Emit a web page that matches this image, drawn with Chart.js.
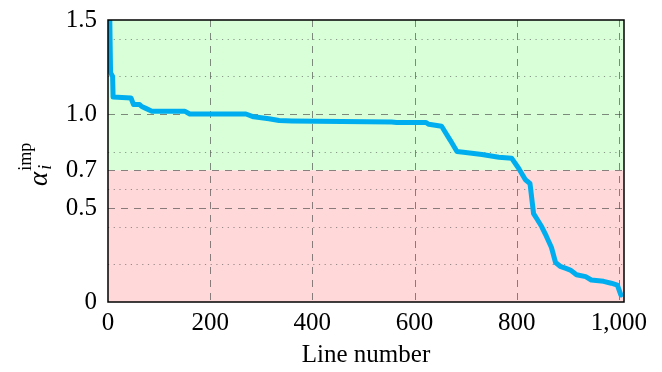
<!DOCTYPE html>
<html>
<head>
<meta charset="utf-8">
<script src="https://cdn.jsdelivr.net/npm/chart.js@4/dist/chart.umd.min.js"></script>
<style>
  html, body { margin: 0; padding: 0; background: #fff; }
</style>
</head>
<body>
<canvas id="alpha" width="662" height="372"></canvas>
<script>
// line index vs. alpha_i^imp, sorted
var lineNo = [3, 5, 9, 10, 45, 50, 62, 66, 74, 86, 150, 160, 270, 285, 300, 315, 335, 360,
              555, 565, 622, 628, 653, 662, 670, 683, 700, 732, 765, 790, 804, 817, 826,
              833, 840, 849, 858, 868, 876, 885, 895, 905, 917, 935, 946, 970, 985, 997, 1004];
var alphaImp = [1.6, 1.22, 1.2, 1.09, 1.085, 1.05, 1.05, 1.04, 1.03, 1.015, 1.015, 1.0, 1.0, 0.985, 0.98, 0.975, 0.965, 0.963,
                0.958, 0.955, 0.955, 0.945, 0.935, 0.895, 0.86, 0.80, 0.795, 0.785, 0.77, 0.765, 0.71, 0.65, 0.63,
                0.47, 0.44, 0.40, 0.35, 0.29, 0.21, 0.19, 0.18, 0.17, 0.145, 0.135, 0.117, 0.11, 0.10, 0.09, 0.037];

var xTicks = [0, 200, 400, 600, 800, 1000];
var yTicks = [0, 0.5, 0.7, 1.0, 1.5];
var yMinor = [0.2, 0.4, 0.6, 0.8, 1.2, 1.4];
var threshold = 0.7;

var serif = '"Liberation Serif", "DejaVu Serif", serif';

var points = lineNo.map(function (x, i) { return { x: x, y: alphaImp[i] }; });

// green above the threshold, red below, plus the grid
var backdrop = {
  id: 'backdrop',
  beforeDatasetsDraw: function (chart) {
    var ctx = chart.ctx, a = chart.chartArea;
    var xs = chart.scales.x, ys = chart.scales.y;
    var yT = ys.getPixelForValue(threshold);
    ctx.save();
    ctx.fillStyle = '#d9ffd9';
    ctx.fillRect(a.left, a.top, a.right - a.left, yT - a.top);
    ctx.fillStyle = '#ffd9d9';
    ctx.fillRect(a.left, yT, a.right - a.left, a.bottom - yT);

    ctx.lineWidth = 1;
    ctx.strokeStyle = 'rgba(70,70,70,0.55)';
    ctx.setLineDash([1.2, 4.5]);
    yMinor.forEach(function (v) {
      var y = Math.round(ys.getPixelForValue(v)) + 0.5;
      ctx.beginPath(); ctx.moveTo(a.left, y); ctx.lineTo(a.right, y); ctx.stroke();
    });
    ctx.strokeStyle = 'rgba(60,60,60,0.6)';
    ctx.setLineDash([7, 6]);
    yTicks.forEach(function (v) {
      if (v === 0 || v === 1.5) return;
      var y = Math.round(ys.getPixelForValue(v)) + 0.5;
      ctx.beginPath(); ctx.moveTo(a.left, y); ctx.lineTo(a.right, y); ctx.stroke();
    });
    xTicks.forEach(function (v) {
      if (v === 0) return;
      var x = Math.round(xs.getPixelForValue(v)) + 0.5;
      ctx.beginPath(); ctx.moveTo(x, a.top); ctx.lineTo(x, a.bottom); ctx.stroke();
    });
    ctx.restore();
  },
  afterDatasetsDraw: function (chart) {
    var ctx = chart.ctx, a = chart.chartArea;
    ctx.save();
    ctx.lineWidth = 1.5;
    ctx.strokeStyle = '#000';
    ctx.strokeRect(a.left, a.top, a.right - a.left, a.bottom - a.top);
    ctx.restore();
  },
  afterDraw: function (chart) {
    // rotated y label: alpha_i^imp
    var ctx = chart.ctx;
    ctx.save();
    ctx.translate(47, 186);
    ctx.rotate(-Math.PI / 2);
    ctx.fillStyle = '#000';
    ctx.textBaseline = 'alphabetic';
    ctx.textAlign = 'left';
    ctx.font = 'italic 27px ' + serif;
    ctx.fillText('α', 0, 0);
    var w = ctx.measureText('α').width;
    ctx.font = 'italic 18px ' + serif;
    ctx.fillText('i', w + 2, 4);
    ctx.font = '18px ' + serif;
    ctx.fillText('imp', w + 1, -16);
    ctx.restore();
  }
};

new Chart('alpha', {
  type: 'line',
  data: {
    datasets: [{
      data: points,
      borderColor: '#00aeef',
      borderWidth: 5,
      borderJoinStyle: 'round',
      borderCapStyle: 'round',
      pointRadius: 0,
      tension: 0,
      fill: false
    }]
  },
  plugins: [backdrop],
  options: {
    responsive: false,
    animation: false,
    devicePixelRatio: 1,
    layout: { padding: { left: 0, top: 20, right: 38, bottom: 0 } },
    plugins: { legend: { display: false }, tooltip: { enabled: false } },
    scales: {
      x: {
        type: 'linear',
        min: 0,
        max: 1010,
        afterBuildTicks: function (s) { s.ticks = xTicks.map(function (v) { return { value: v }; }); },
        afterFit: function (s) { s.height = 70; s.paddingLeft = 0; s.paddingRight = 0; },
        grid: { display: false, drawTicks: false },
        border: { display: false },
        ticks: {
          padding: 6,
          color: '#000',
          font: { family: serif, size: 25 },
          maxRotation: 0,
          callback: function (v) { return v.toLocaleString('en-US'); }
        },
        title: {
          display: true,
          text: 'Line number',
          color: '#000',
          font: { family: serif, size: 25 },
          padding: { top: 0, bottom: 2 }
        }
      },
      y: {
        min: 0,
        max: 1.5,
        afterBuildTicks: function (s) { s.ticks = yTicks.map(function (v) { return { value: v }; }); },
        afterFit: function (s) { s.width = 108; s.paddingTop = 0; s.paddingBottom = 0; },
        grid: { display: false, drawTicks: false },
        border: { display: false },
        ticks: {
          padding: 11,
          color: '#000',
          font: { family: serif, size: 25 },
          callback: function (v) { return v === 0 ? '0' : v.toFixed(1); }
        }
      }
    }
  }
});
</script>
</body>
</html>
